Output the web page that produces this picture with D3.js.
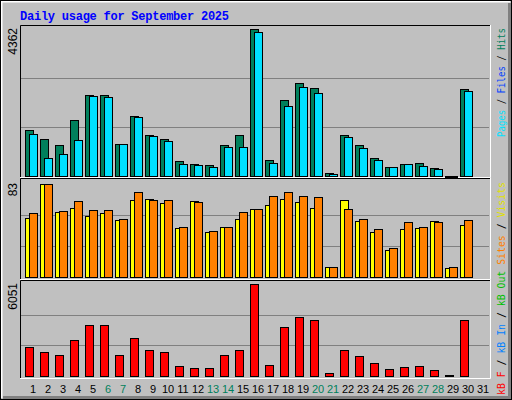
<!DOCTYPE html>
<html><head><meta charset="utf-8">
<script src="https://cdn.jsdelivr.net/npm/d3@7"></script>
<style>body{margin:0;background:#fff}</style>
</head><body><div id="chart"></div>
<script>
const days = d3.range(1, 32);
const weekendDays = [6, 7, 13, 14, 20, 21, 27, 28];
const hits  = [1365,1098,920,1662,2403,2403,950,1780,1216,1098,445,356,326,920,1216,4362,475,2255,2759,2611,89,1216,920,534,267,356,386,237,10,2581,0];
const pages = [1246,534,653,1068,2374,2344,950,1750,1187,1038,356,326,267,860,860,4273,386,2077,2641,2463,60,1157,831,475,267,356,297,208,5,2522,0];
const visits = [53,83,58,62,54,57,51,69,70,66,44,68,40,45,52,61,64,70,67,62,9,69,50,40,24,43,44,50,8,46,0];
const sites  = [57,83,59,68,60,60,52,76,69,69,45,67,41,45,58,61,72,76,72,71,9,61,52,43,26,49,45,49,9,51,0];
const kbytes = [1888,1559,1361,2348,3335,3335,1361,2480,1690,1559,638,506,506,1361,1690,6051,704,3203,3861,3663,178,1690,1296,835,441,572,638,375,40,3663,0];
const maxTop = 4362, maxMid = 83, maxBot = 6051;

const W = 512, H = 400;
const svg = d3.select("#chart").append("svg").attr("width", W).attr("height", H)
    .style("font-family", "'Liberation Sans'");

// frame
svg.append("rect").attr("x", 0).attr("y", 0).attr("width", W).attr("height", H).attr("fill", "#c0c0c0");
svg.append("rect").attr("x", 508).attr("y", 3).attr("width", 4).attr("height", 397).attr("fill", "#808080");
svg.append("rect").attr("x", 3).attr("y", 396).attr("width", 509).attr("height", 4).attr("fill", "#808080");
svg.append("path").attr("d", "M1.5,398V1.5H510").attr("fill", "none").attr("stroke", "#fff").attr("stroke-width", 2);
svg.append("rect").attr("x", 0.5).attr("y", 0.5).attr("width", W - 1).attr("height", H - 1)
    .attr("fill", "none").attr("stroke", "#000");

svg.append("text").attr("x", 20).attr("y", 20).text("Daily usage for September 2025")
    .attr("font-family", "'Liberation Mono'").attr("font-weight", "bold").attr("font-size", 12)
    .attr("textLength", 209).attr("fill", "#0000ff");

const x = d3.scaleLinear().domain([1, 31]).range([25, 475]);

function panel(top, bottom, base, peak, max, maxLabel) {
    const y = d3.scaleLinear().domain([0, max]).range([base, peak]);
    svg.append("g").selectAll("line").data([max / 3, max * 2 / 3]).join("line")
        .attr("x1", 21).attr("x2", 489).attr("y1", d => Math.round(y(d)) + 0.5).attr("y2", d => Math.round(y(d)) + 0.5)
        .attr("stroke", "#808080");
    svg.append("path").attr("d", `M20.5,${bottom}V${top + 0.5}H490.5`).attr("fill", "none").attr("stroke", "#000");
    svg.append("path").attr("d", `M490.5,${top}V${bottom - 0.5}H20`).attr("fill", "none").attr("stroke", "#fff");
    svg.append("text").attr("transform", `translate(17,${peak - 1}) rotate(-90)`).attr("text-anchor", "end")
        .attr("font-size", 12).text(maxLabel);
    return y;
}

function bars(y, data, dx, w, color) {
    svg.append("g").selectAll("rect").data(data).join("rect")
        .attr("x", (d, i) => x(days[i]) + dx + 0.5)
        .attr("y", d => Math.round(y(d)) + 0.5)
        .attr("width", w)
        .attr("height", d => Math.max(1, y(0) - Math.round(y(d))))
        .attr("fill", color).attr("stroke", "#000")
        .style("display", d => d > 0 ? null : "none");
}

const yTop = panel(25, 178, 176, 29, maxTop, "4362");
bars(yTop, hits, 0, 8, "#00805c");
bars(yTop, pages, 4, 8, "#00e0ff");

const yMid = panel(178, 280, 277, 184, maxMid, "83");
bars(yMid, visits, 0, 8, "#ffff00");
bars(yMid, sites, 4, 8, "#ff8000");

const yBot = panel(280, 379, 376, 284, maxBot, "6051");
bars(yBot, kbytes, 0, 8, "#ff0000");

svg.append("g").selectAll("text").data(days).join("text")
    .attr("x", d => x(d) + 8).attr("y", 393).attr("text-anchor", "middle")
    .attr("font-size", 11)
    .attr("fill", d => weekendDays.includes(d) ? "#00805c" : "#000")
    .text(d => d);

function legend(yEnd, len, parts) {
    const t = svg.append("text").attr("transform", `translate(505,${yEnd}) rotate(-90)`)
        .attr("font-family", "'DejaVu Sans Mono'").attr("font-size", 11)
        .attr("textLength", len).attr("lengthAdjust", "spacingAndGlyphs");
    parts.forEach(p => t.append("tspan").attr("fill", p[1]).text(p[0]));
}
legend(137, 109, [["Pages", "#00e0ff"], [" / ", "#000"], ["Files", "#0040ff"], [" / ", "#000"], ["Hits", "#00805c"]]);
legend(395, 213, [["kB F", "#ff0000"], [" / ", "#000"], ["kB In", "#0080ff"], [" / ", "#000"], ["kB Out", "#00c000"], [" ", "#000"], ["Sites", "#ff8000"], [" / ", "#000"], ["Visits", "#e0e000"]]);
</script></body></html>
